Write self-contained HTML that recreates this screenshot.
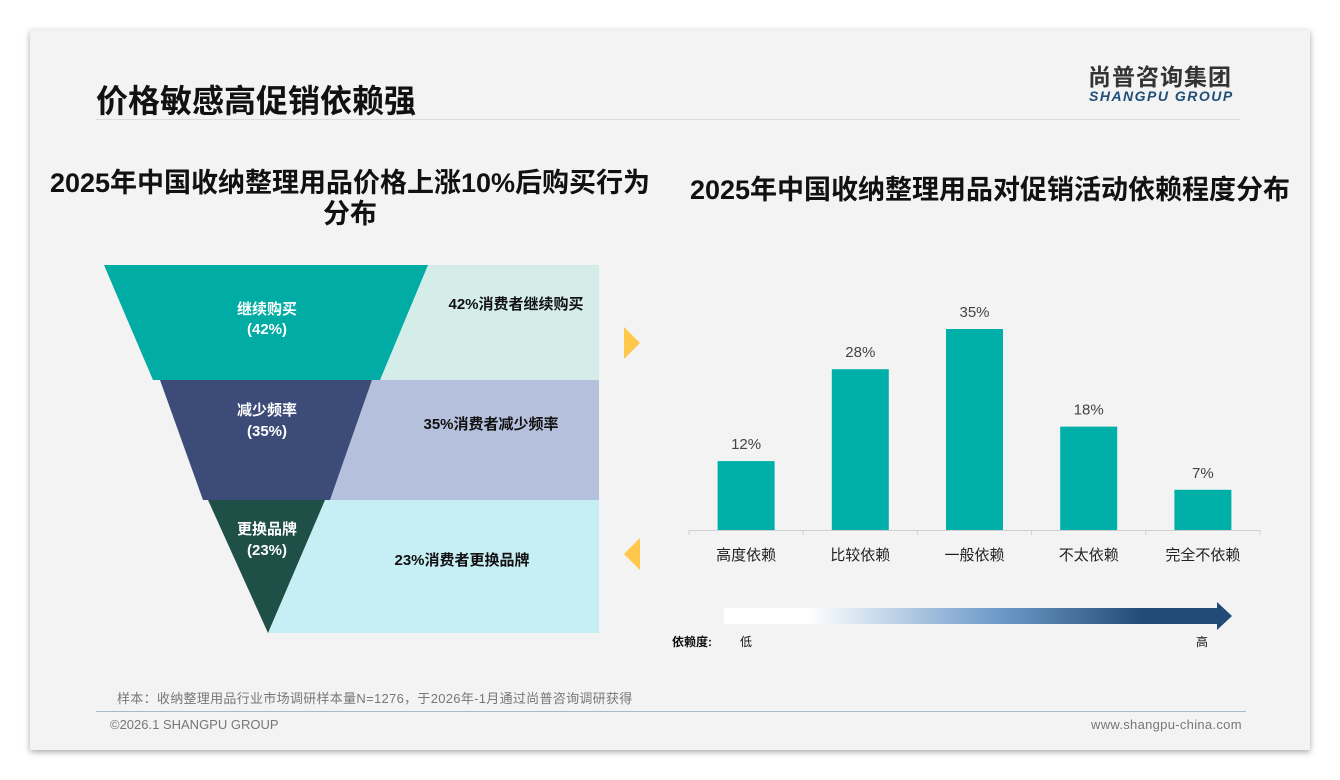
<!DOCTYPE html>
<html><head><meta charset="utf-8">
<style>
*{margin:0;padding:0;box-sizing:border-box}
body{width:1340px;height:780px;background:#fff;position:relative;overflow:hidden;font-family:"Liberation Sans","Noto Sans CJK SC",sans-serif}
#slide{position:absolute;left:30px;top:30px;width:1280px;height:720px;background:#f3f3f3;box-shadow:0 2px 6px rgba(0,0,0,.35)}
.t{position:absolute;white-space:nowrap}
</style></head><body>
<div id="slide"></div>
<div class="t" style="left:96px;top:76px;font-size:32px;font-weight:bold;color:#111">价格敏感高促销依赖强</div>
<div style="position:absolute;left:96px;top:119px;width:1144px;height:1px;background:#dcdcdc"></div>
<div class="t" style="left:1088px;top:58px;font-size:23px;font-weight:bold;color:#333;letter-spacing:1px">尚普咨询集团</div>
<div class="t" style="left:1089px;top:88px;font-size:14px;font-weight:bold;font-style:italic;color:#1f4e79;letter-spacing:1.5px">SHANGPU GROUP</div>
<div class="t" style="left:40px;top:168px;width:620px;text-align:center;font-size:27px;font-weight:bold;color:#111;line-height:31px">2025年中国收纳整理用品价格上涨10%后购买行为<br>分布</div>
<div class="t" style="left:680px;top:168px;width:620px;text-align:center;font-size:27px;font-weight:bold;color:#111">2025年中国收纳整理用品对促销活动依赖程度分布</div>

<svg width="1340" height="780" style="position:absolute;left:0;top:0">
<polygon points="428,265 599,265 599,380 380,380" fill="#d5ede9"/>
<polygon points="372,380 599,380 599,500 330,500" fill="#b5c0dc"/>
<polygon points="325,500 599,500 599,633 268,633" fill="#c6eef5"/>
<polygon points="104,265 428,265 380,380 153,380" fill="#00aca3"/>
<polygon points="160,380 372,380 330,500 203,500" fill="#3d4b78"/>
<polygon points="208,500 325,500 268,633" fill="#1f5048"/>
<g font-family="Liberation Sans,Noto Sans CJK SC,sans-serif" font-weight="bold" text-anchor="middle">
<text x="267" y="314" font-size="15" fill="#fff">继续购买</text>
<text x="267" y="334" font-size="15" fill="#fff">(42%)</text>
<text x="267" y="415" font-size="15" fill="#fff">减少频率</text>
<text x="267" y="436" font-size="15" fill="#fff">(35%)</text>
<text x="267" y="534" font-size="15" fill="#fff">更换品牌</text>
<text x="267" y="555" font-size="15" fill="#fff">(23%)</text>
<text x="516" y="309" font-size="15" fill="#111">42%消费者继续购买</text>
<text x="491" y="429" font-size="15" fill="#111">35%消费者减少频率</text>
<text x="462" y="565" font-size="15" fill="#111">23%消费者更换品牌</text>
</g>
<polygon points="624,327 640,343 624,359" fill="#ffc84a"/>
<polygon points="640,538 624,554 640,570" fill="#ffc84a"/>
<defs><linearGradient id="g" x1="0" x2="1"><stop offset="0" stop-color="#fff"/><stop offset="0.17" stop-color="#fff"/><stop offset="0.55" stop-color="#6f9ccb"/><stop offset="0.85" stop-color="#234b77"/><stop offset="1" stop-color="#234b77"/></linearGradient></defs>
<rect x="724" y="608" width="494" height="16" fill="url(#g)"/>
<polygon points="1217,602 1232,616 1217,630" fill="#234b77"/>
<text x="672" y="646" font-size="12" font-weight="bold" fill="#111" font-family="Liberation Sans,Noto Sans CJK SC,sans-serif">依赖度:</text>
<text x="740" y="646" font-size="12" fill="#111" font-family="Liberation Sans,Noto Sans CJK SC,sans-serif">低</text>
<text x="1196" y="646" font-size="12" fill="#111" font-family="Liberation Sans,Noto Sans CJK SC,sans-serif">高</text>
<g id="bars"></g>
</svg>

<div class="t" style="left:117px;top:688px;font-size:13px;color:#777;letter-spacing:0.3px">样本：收纳整理用品行业市场调研样本量N=1276，于2026年-1月通过尚普咨询调研获得</div>
<div style="position:absolute;left:96px;top:711px;width:1150px;height:1px;background:#aab8cc"></div>
<div class="t" style="left:110px;top:717px;font-size:13px;color:#777">©2026.1 SHANGPU GROUP</div>
<div class="t" style="left:1091px;top:717px;font-size:13px;color:#777;letter-spacing:0.3px">www.shangpu-china.com</div>

<script>
const categories=["高度依赖","比较依赖","一般依赖","不太依赖","完全不依赖"];
const values=[12,28,35,18,7];
const valueLabels=["12%","28%","35%","18%","7%"];
const NS="http://www.w3.org/2000/svg";
const g=document.getElementById('bars');
const x0=689,x1=1260,base=530,scale=201/35;
const step=(x1-x0)/categories.length,bw=57;
const xC=i=>x0+step*(i+0.5);
const yV=v=>base-v*scale;
function mk(t,a){const e=document.createElementNS(NS,t);for(const k in a)e.setAttribute(k,a[k]);g.appendChild(e);return e;}
const ax=mk('line',{x1:x0,x2:x1,y1:base+0.5,y2:base+0.5,stroke:'#d0d0d0'});


for(let i=0;i<=categories.length;i++){const tk=mk('line',{x1:x0+step*i,x2:x0+step*i,y1:base,y2:base+5,stroke:'#d0d0d0'});

}
categories.forEach((c,i)=>{
 const r=mk('rect',{x:xC(i)-bw/2,y:yV(values[i]),width:bw,height:base-yV(values[i]),fill:'#00b0a8'});
 
 
 const v=mk('text',{x:xC(i),y:yV(values[i])-12,'text-anchor':'middle','font-size':15,fill:'#444','font-family':'Liberation Sans,Noto Sans CJK SC,sans-serif'});
 v.textContent=valueLabels[i];
 
 
 const l=mk('text',{x:xC(i),y:base+30,'text-anchor':'middle','font-size':15,fill:'#222','font-family':'Liberation Sans,Noto Sans CJK SC,sans-serif'});
 l.textContent=c;
 
 
});
</script>
</body></html>
